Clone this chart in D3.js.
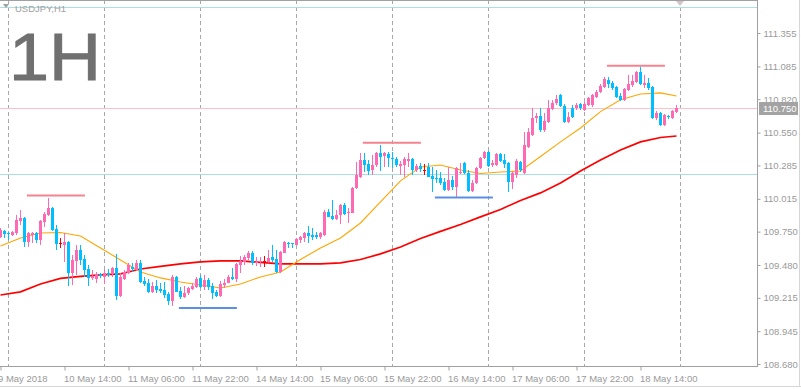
<!DOCTYPE html>
<html>
<head>
<meta charset="utf-8">
<script src="https://d3js.org/d3.v7.min.js"></script>
<style>
  body { margin: 0; background: #fff; }
  svg text { font-family: "Liberation Sans", Arial, sans-serif; }
</style>
</head>
<body>
<svg width="801" height="389"></svg>
<script>
// USDJPY H1, one row per bar: [open, high, low, close]
var candles = [
  [109.707,109.780,109.699,109.764],[109.756,109.764,109.699,109.731],[109.739,109.747,109.683,109.727],[109.723,109.756,109.715,109.747],
  [109.739,109.885,109.723,109.844],[109.836,109.925,109.804,109.861],[109.861,109.865,109.626,109.667],[109.667,109.747,109.626,109.739],
  [109.723,109.747,109.659,109.739],[109.739,109.743,109.659,109.683],[109.683,109.844,109.642,109.836],[109.828,109.909,109.788,109.893],
  [109.885,110.022,109.880,109.941],[109.941,109.949,109.756,109.764],[109.772,109.804,109.602,109.650],[109.659,109.699,109.618,109.659],
  [109.642,109.739,109.505,109.667],[109.667,109.675,109.311,109.416],[109.416,109.562,109.319,109.521],[109.513,109.642,109.400,109.602],
  [109.602,109.642,109.481,109.521],[109.529,109.562,109.384,109.440],[109.448,109.481,109.311,109.376],[109.376,109.440,109.360,109.392],
  [109.368,109.424,109.335,109.408],[109.404,109.416,109.376,109.388],[109.380,109.440,109.327,109.416],[109.412,109.448,109.384,109.400],
  [109.408,109.465,109.384,109.457],[109.457,109.570,109.198,109.230],[109.230,109.416,109.218,109.384],[109.368,109.440,109.360,109.424],
  [109.416,109.497,109.408,109.481],[109.465,109.497,109.424,109.444],[109.440,109.521,109.432,109.497],[109.497,109.521,109.335,109.343],
  [109.352,109.384,109.311,109.327],[109.335,109.368,109.255,109.263],[109.263,109.343,109.255,109.311],[109.311,109.360,109.255,109.279],
  [109.287,109.335,109.255,109.271],[109.279,109.343,109.214,109.238],[109.246,109.263,109.157,109.190],[109.190,109.400,109.149,109.384],
  [109.384,109.392,109.259,109.263],[109.271,109.303,109.206,109.222],[109.222,109.311,109.214,109.255],[109.255,109.303,109.238,109.295],
  [109.287,109.335,109.279,109.311],[109.303,109.384,109.295,109.368],[109.376,109.400,109.295,109.303],[109.303,109.400,109.279,109.360],
  [109.360,109.376,109.279,109.303],[109.311,109.335,109.206,109.255],[109.263,109.279,109.222,109.230],[109.230,109.352,109.222,109.327],
  [109.319,109.368,109.295,109.335],[109.335,109.400,109.331,109.384],[109.384,109.457,109.360,109.368],[109.368,109.497,109.343,109.489],
  [109.481,109.554,109.416,109.513],[109.505,109.562,109.481,109.545],[109.537,109.594,109.521,109.578],[109.578,109.594,109.481,109.497],
  [109.493,109.545,109.473,109.505],[109.501,109.545,109.465,109.513],[109.513,109.554,109.465,109.513],[109.505,109.602,109.497,109.537],
  [109.545,109.642,109.505,109.521],[109.529,109.602,109.416,109.424],[109.424,109.590,109.416,109.586],[109.578,109.675,109.574,109.667],
  [109.659,109.667,109.618,109.646],[109.655,109.661,109.618,109.646],[109.642,109.699,109.638,109.691],[109.683,109.715,109.659,109.707],
  [109.699,109.747,109.667,109.739],[109.739,109.796,109.659,109.715],[109.723,109.780,109.683,109.707],[109.719,109.747,109.691,109.707],
  [109.707,109.743,109.691,109.739],[109.723,109.925,109.715,109.909],[109.909,109.933,109.865,109.869],[109.877,110.006,109.844,109.852],
  [109.852,109.925,109.844,109.885],[109.885,109.974,109.812,109.966],[109.966,109.982,109.885,109.893],[109.897,109.941,109.820,109.909],
  [109.901,110.111,109.897,110.103],[110.103,110.313,110.095,110.208],[110.192,110.386,110.184,110.329],[110.329,110.386,110.232,110.289],
  [110.297,110.329,110.208,110.240],[110.248,110.370,110.208,110.289],[110.289,110.394,110.273,110.386],[110.386,110.450,110.240,110.353],
  [110.362,110.394,110.273,110.386],[110.378,110.394,110.273,110.345],[110.345,110.394,110.265,110.333],[110.337,110.353,110.273,110.289],
  [110.281,110.321,110.208,110.297],[110.289,110.353,110.192,110.337],[110.321,110.386,110.273,110.337],[110.337,110.345,110.208,110.248],
  [110.248,110.297,110.232,110.281],[110.281,110.305,110.232,110.256],[110.248,110.297,110.208,110.248],[110.273,110.305,110.188,110.192],
  [110.200,110.273,110.071,110.176],[110.184,110.248,110.143,110.172],[110.184,110.232,110.127,110.143],[110.151,110.184,110.079,110.087],
  [110.087,110.273,110.079,110.168],[110.168,110.200,110.087,110.111],[110.111,110.273,110.030,110.265],[110.224,110.305,110.216,110.232],
  [110.305,110.313,110.216,110.224],[110.224,110.248,110.071,110.079],[110.079,110.168,110.071,110.143],[110.143,110.269,110.135,110.265],
  [110.265,110.353,110.256,110.345],[110.345,110.402,110.337,110.394],[110.394,110.402,110.273,110.281],[110.289,110.329,110.273,110.305],
  [110.289,110.386,110.281,110.378],[110.378,110.386,110.313,110.321],[110.329,110.378,110.265,110.297],[110.305,110.313,110.071,110.151],
  [110.151,110.232,110.095,110.224],[110.208,110.337,110.184,110.321],[110.313,110.321,110.232,110.248],[110.224,110.555,110.216,110.450],
  [110.434,110.588,110.426,110.555],[110.531,110.749,110.523,110.669],[110.669,110.709,110.628,110.685],[110.685,110.749,110.555,110.572],
  [110.572,110.709,110.555,110.644],[110.636,110.814,110.628,110.749],[110.741,110.814,110.733,110.790],[110.790,110.854,110.774,110.822],
  [110.854,110.862,110.757,110.766],[110.766,110.782,110.628,110.636],[110.636,110.717,110.628,110.677],[110.749,110.774,110.669,110.677],
  [110.749,110.790,110.733,110.774],[110.782,110.790,110.733,110.749],[110.733,110.798,110.725,110.782],[110.774,110.838,110.766,110.830],
  [110.774,110.862,110.757,110.854],[110.838,110.895,110.830,110.879],[110.879,110.943,110.871,110.927],[110.919,111.000,110.911,110.984],
  [110.976,111.000,110.911,110.943],[110.951,110.968,110.895,110.911],[110.919,110.927,110.830,110.838],[110.846,110.871,110.806,110.814],
  [110.814,110.911,110.806,110.903],[110.895,111.016,110.887,110.943],[110.935,111.016,110.919,110.968],[110.959,111.048,110.951,111.040],
  [111.040,111.081,110.935,110.943],[110.935,111.016,110.911,110.951],[110.951,110.992,110.895,110.911],[110.919,110.927,110.662,110.669],
  [110.669,110.725,110.652,110.709],[110.709,110.717,110.604,110.612],[110.612,110.701,110.604,110.693],[110.681,110.693,110.660,110.673],
  [110.669,110.733,110.662,110.725],[110.717,110.774,110.709,110.750]
];

// moving averages read at every 5th bar
var maIdx  = [0,5,10,15,20,25,30,35,40,45,50,55,60,65,70,75,80,85,90,95,100,105,110,115,120,125,130,135,140,145,150,155,160,165,169];
var maFast = [109.634,109.699,109.739,109.743,109.715,109.618,109.521,109.424,109.376,109.343,109.319,109.295,109.327,109.384,109.424,
              109.525,109.618,109.699,109.820,109.990,110.160,110.273,110.289,110.248,110.220,110.232,110.240,110.357,110.475,110.588,
              110.720,110.816,110.862,110.871,110.846];
var maSlow = [109.238,109.263,109.327,109.372,109.388,109.400,109.408,109.448,109.469,109.489,109.505,109.513,109.513,109.501,109.489,
              109.489,109.489,109.497,109.525,109.570,109.626,109.695,109.752,109.808,109.869,109.929,110.002,110.063,110.143,110.240,
              110.329,110.410,110.475,110.511,110.523];

var priceTicks = [111.355,111.085,110.820,110.550,110.285,110.015,109.750,109.480,109.215,108.945,108.680];
var timeIdx    = [0,16,32,48,64,80,96,112,128,144,160];
var timeLabels = ["9 May 2018","10 May 14:00","11 May 06:00","11 May 22:00","14 May 14:00","15 May 06:00",
                  "15 May 22:00","16 May 14:00","17 May 06:00","17 May 22:00","18 May 14:00"];
var dayIdx     = [2,26,50,74,98,122,146,170];

// short drawn levels: price, start bar, end bar, type
var levelPrice = [110.041,109.133,110.469,110.025,111.091];
var levelFrom  = [6.6,44.6,90.6,108.6,151.6];
var levelTo    = [21.1,59.1,105.1,123.1,166.1];
var levelType  = ["res","sup","res","sup","res"];

var bidPrice = 110.750;
var hLines = [111.565, 110.215];

var svg = d3.select("svg"),
    plotW = 757,
    plotH = 366;

var x = d3.scaleLinear().domain([0, 169]).range([0.5, 676.5]);
var y = d3.scaleLinear().domain([108.664, 111.622]).range([plotH, 0]);

var bull = "#ff69b4", bear = "#00bfff";

svg.append("defs").append("clipPath").attr("id", "plot")
   .append("rect").attr("x", 0).attr("y", 0).attr("width", plotW).attr("height", plotH);

// window frame
svg.append("line").attr("x1", 0).attr("x2", 801).attr("y1", 386.5).attr("y2", 386.5).attr("stroke", "#d6d6d6");
svg.append("line").attr("x1", 799.5).attr("x2", 799.5).attr("y1", 0).attr("y2", 387).attr("stroke", "#d6d6d6");

var g = svg.append("g").attr("clip-path", "url(#plot)");

// day separators
g.selectAll(".day").data(dayIdx).enter().append("line")
  .attr("x1", function(d) { return Math.floor(x(d)) + 0.5; })
  .attr("x2", function(d) { return Math.floor(x(d)) + 0.5; })
  .attr("y1", 0).attr("y2", plotH)
  .attr("stroke", "#a8a8a8").attr("stroke-dasharray", "4,3");

// big timeframe text
svg.append("text").attr("x", 9).attr("y", 80)
   .attr("font-size", 67).attr("fill", "#707070")
   .attr("stroke", "#707070").attr("stroke-width", 1)
   .attr("textLength", 92).attr("lengthAdjust", "spacingAndGlyphs")
   .text("1H");

// horizontal lines
g.selectAll(".hl").data(hLines).enter().append("line")
  .attr("x1", 0).attr("x2", plotW)
  .attr("y1", function(d) { return Math.round(y(d)) + 0.5; })
  .attr("y2", function(d) { return Math.round(y(d)) + 0.5; })
  .attr("stroke", "#a8e0e4");
g.append("line").attr("x1", 0).attr("x2", plotW)
  .attr("y1", Math.round(y(bidPrice)) + 0.5).attr("y2", Math.round(y(bidPrice)) + 0.5)
  .attr("stroke", "#ffc0cb");

// moving averages
var maLine = function(vals) {
  return d3.line().x(function(d, i) { return x(maIdx[i]); }).y(function(d) { return y(d); })(vals);
};
g.append("path").attr("d", maLine(maSlow)).attr("fill", "none").attr("stroke", "#ff0000").attr("stroke-width", 1.7);
g.append("path").attr("d", maLine(maFast)).attr("fill", "none").attr("stroke", "#ffa500").attr("stroke-width", 1.1);

// candles
var colorOf = function(d) { return d[3] > d[0] ? bull : (d[3] < d[0] ? bear : "#ff0000"); };
var cg = g.append("g").attr("shape-rendering", "crispEdges");
cg.selectAll(".wick").data(candles).enter().append("rect")
  .attr("x", function(d, i) { return Math.floor(x(i)); })
  .attr("width", 1)
  .attr("y", function(d) { return Math.round(y(d[1])); })
  .attr("height", function(d) { return Math.max(1, Math.round(y(d[2])) - Math.round(y(d[1]))); })
  .attr("fill", colorOf);
cg.selectAll(".body").data(candles).enter().append("rect")
  .attr("x", function(d, i) { return Math.floor(x(i)) - 1; })
  .attr("width", 3)
  .attr("y", function(d) { return Math.round(y(Math.max(d[0], d[3]))); })
  .attr("height", function(d) { return Math.max(1, Math.round(y(Math.min(d[0], d[3]))) - Math.round(y(Math.max(d[0], d[3])))); })
  .attr("fill", colorOf);

// drawn levels
g.selectAll(".lvl").data(levelPrice).enter().append("line")
  .attr("x1", function(d, i) { return x(levelFrom[i]); })
  .attr("x2", function(d, i) { return x(levelTo[i]); })
  .attr("y1", function(d) { return y(d); })
  .attr("y2", function(d) { return y(d); })
  .attr("stroke", function(d, i) { return levelType[i] === "res" ? "#f4828f" : "#5b8fe6"; })
  .attr("stroke-width", 2);

// frame
svg.append("line").attr("x1", 0).attr("x2", plotW + 1).attr("y1", 0.5).attr("y2", 0.5).attr("stroke", "#a0a0a0");
svg.append("line").attr("x1", plotW + 0.5).attr("x2", plotW + 0.5).attr("y1", 0).attr("y2", plotH + 1).attr("stroke", "#a0a0a0");
svg.append("line").attr("x1", 0).attr("x2", plotW + 1).attr("y1", plotH + 0.5).attr("y2", plotH + 0.5).attr("stroke", "#a0a0a0");

// price axis
var ya = svg.append("g").attr("transform", "translate(" + (plotW + 0.5) + ",0)")
  .call(d3.axisRight(y).tickValues(priceTicks).tickSize(3).tickFormat(d3.format(".3f")));
ya.select(".domain").remove();
ya.selectAll("line").attr("stroke", "#a0a0a0");
ya.selectAll("text").attr("fill", "#9a9a9a").attr("font-size", 9.5).attr("font-family", "Liberation Sans, Arial, sans-serif");

// bid label
svg.append("rect").attr("x", 759).attr("y", Math.round(y(bidPrice)) - 6).attr("width", 39).attr("height", 13).attr("fill", "#a3a3a3");
svg.append("text").attr("x", 763).attr("y", Math.round(y(bidPrice)) + 4)
   .attr("font-size", 9.5).attr("fill", "#ffffff").text(d3.format(".3f")(bidPrice));

// time axis
var xa = svg.append("g").attr("transform", "translate(0," + (plotH + 0.5) + ")")
  .call(d3.axisBottom(x).tickValues(timeIdx).tickSize(4).tickFormat(function(d, i) { return timeLabels[i]; }));
xa.select(".domain").remove();
xa.selectAll("line").attr("stroke", "#a0a0a0");
xa.selectAll("text").attr("fill", "#9a9a9a").attr("font-size", 9.5)
  .attr("font-family", "Liberation Sans, Arial, sans-serif")
  .attr("text-anchor", "start").attr("dy", "0.9em")
  .attr("dx", function(d, i) { return i === 0 ? -3 : -1; });

// symbol caption
svg.append("path").attr("d", "M3,4 L9,4 L6,8 Z").attr("fill", "#a0a0a0");
svg.append("text").attr("x", 15).attr("y", 11.5).attr("font-size", 9.5).attr("fill", "#a0a0a0").text("USDJPY,H1");

// chart shift marker
svg.append("path").attr("d", "M676,1 L684,1 L680,6 Z").attr("fill", "#d2c4ca");
</script>
</body>
</html>
